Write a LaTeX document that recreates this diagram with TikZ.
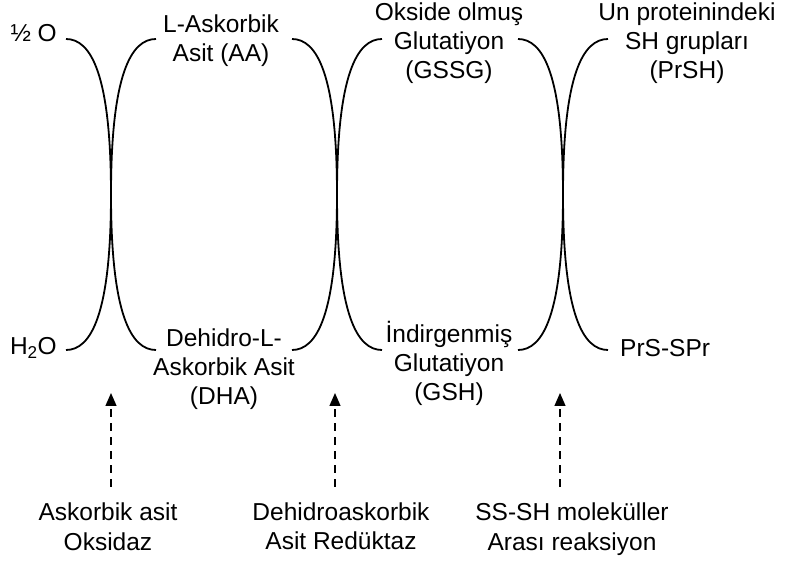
\documentclass[tikz,border=0pt]{standalone}
\usepackage{fontspec}
\setmainfont{Liberation Sans}
\usetikzlibrary{arrows.meta}
\newcommand\mylines[1]{\begin{tabular}[t]{@{}c@{}}#1\end{tabular}}
\begin{document}
\begin{tikzpicture}[x=1pt,y=-1pt,
  lbl/.style={inner sep=0pt, anchor=base, font=\fontsize{24.5}{29}\selectfont},
  curve/.style={line width=1.8pt},
  enz/.style={line width=1.3pt, dash pattern=on 8pt off 6pt, -{Triangle[length=13pt,width=11pt]}}]
\useasboundingbox (0,0) rectangle (788,561);

% reactant / product labels
\node[lbl, anchor=base east] (ho) at (57,42) {½ O};
\node[lbl, anchor=base east] (hw) at (57,355) {H\textsubscript{2}O};
\node[lbl] (aa) at (221,33) {\mylines{L-Askorbik\\Asit (AA)}};
\node[lbl] (dha) at (224,347) {\mylines{Dehidro-L-\\Askorbik Asit\\(DHA)}};
\node[lbl] (gssg) at (449,21) {\mylines{Okside olmuş\\Glutatiyon\\(GSSG)}};
\node[lbl] (gsh) at (449,343) {\mylines{İndirgenmiş\\Glutatiyon\\(GSH)}};
\node[lbl] (prsh) at (687,21) {\mylines{Un proteinindeki\\SH grupları\\(PrSH)}};
\node[lbl, anchor=base west] (prs) at (620,357) {PrS-SPr};

% enzyme labels
\node[lbl] (e1) at (108,521) {\mylines{Askorbik asit\\Oksidaz}};
\node[lbl] (e2) at (341,520) {\mylines{Dehidroaskorbik\\Asit Redüktaz}};
\node[lbl] (e3) at (572,521) {\mylines{SS-SH moleküller\\Arası reaksiyon}};

% curve end points
\foreach \n/\cx in {a/111,b/337,c/563}{
  \coordinate (\n TL) at (\cx-45,39);
  \coordinate (\n TR) at (\cx+45,39);
  \coordinate (\n BL) at (\cx-45,350);
  \coordinate (\n BR) at (\cx+45,350);
  \coordinate (\n M) at (\cx,194.5);
  \draw[curve] (\n TL) .. controls +(25,0) and +(0,-120) .. (\n M)
                       .. controls +(0,120) and +(25,0) .. (\n BL);
  \draw[curve] (\n TR) .. controls +(-25,0) and +(0,-120) .. (\n M)
                       .. controls +(0,120) and +(-25,0) .. (\n BR);
}

% enzyme arrows
\foreach \n/\x in {1/111,2/335,3/560}{
  \coordinate (s\n) at (\x,487);
  \coordinate (t\n) at (\x,393);
  \draw[enz] (s\n) -- (t\n);
}
\end{tikzpicture}
\end{document}
